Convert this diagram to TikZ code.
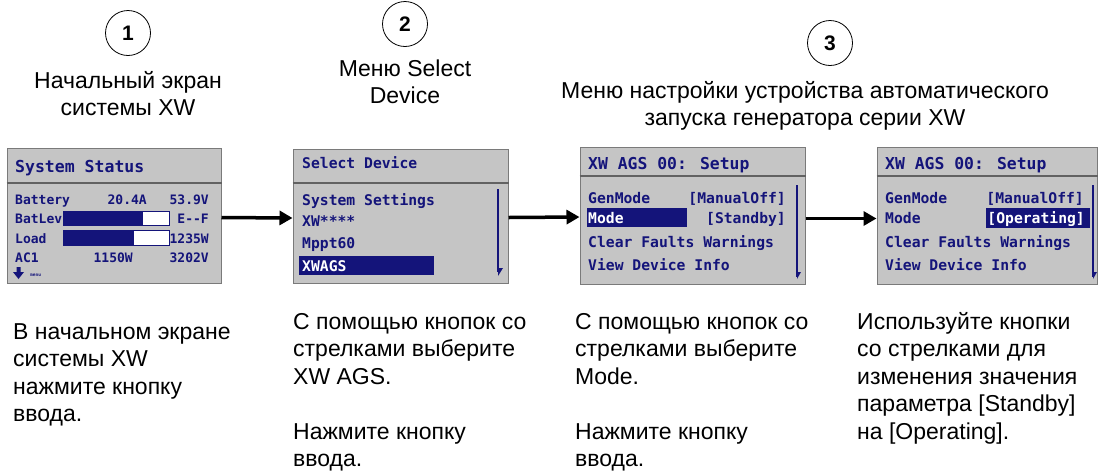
\documentclass[tikz,border=0pt]{standalone}
\usepackage{fontspec}
\setmainfont{Liberation Sans}
\newfontfamily\lcdfont{DejaVu Sans Mono}
\usepackage{tikz}
\usetikzlibrary{positioning,arrows.meta}
\definecolor{LcdBlue}{HTML}{14147A}
\definecolor{ScrFill}{HTML}{C5C5C5}
\definecolor{ScrEdge}{HTML}{7A7A7A}

\begin{document}
\begin{tikzpicture}[x=1pt,y=-1pt,
  screen/.style={draw=ScrEdge, fill=ScrFill, line width=1pt, inner sep=0pt},
  sepline/.style={draw=ScrEdge!80!black, line width=1.2pt},
  lcd/.style={font=\lcdfont\bfseries\fontsize{14.7}{14.7}\selectfont, text=LcdBlue, inner sep=0pt, anchor=base west},
  lcdr/.style={lcd, anchor=base east},
  lcdsel/.style={text=white},
  selbar/.style={fill=LcdBlue},
  scroll/.style={draw=LcdBlue, line width=1.4pt},
  stepnum/.style={circle, draw, line width=0.8pt, minimum size=45pt, inner sep=0pt, font=\bfseries\fontsize{21}{21}\selectfont},
  caption/.style={align=center, anchor=north, inner sep=0pt, font=\fontsize{23}{27}\selectfont},
  note/.style={align=left, anchor=north west, inner sep=0pt, font=\fontsize{23}{27.5}\selectfont},
  flow/.style={-{Triangle[length=13pt,width=14pt]}, line width=3.5pt}]
  \useasboundingbox (0,0) rectangle (1099,475);

  % step numbers and captions
  \foreach \n/\x/\y in {1/128/33, 2/405/24, 3/830/43}{
    \node[stepnum] (num\n) at (\x,\y) {\n};
  }
  \node[caption] (cap1) at (128,69) {\strut Начальный экран\\системы XW};
  \node[caption] (cap2) at (405,57) {\strut Меню Select\\Device};
  \node[caption] (cap3) at (805,79) {\strut Меню настройки устройства автоматического\\запуска генератора серии XW};

  % screens
  \node[screen, minimum width=214pt, minimum height=135pt] (home) at (114,215.5) {};
  \node[screen, minimum width=215pt, minimum height=134pt] (select) at (400.5,216) {};
  \node[screen, minimum width=225pt, minimum height=137pt] (setup) at (692.5,215.5) {};
  \node[screen, minimum width=220pt, minimum height=137pt] (setop) at (987,215.5) {};
  \foreach \s/\y in {home/183, select/183, setup/176, setop/176}{
    \draw[sepline] (\s.west |- 0,\y) -- (\s.east |- 0,\y);
  }

  % home screen
  \node[lcd, font=\lcdfont\bfseries\fontsize{16.5}{16.5}\selectfont] (homet) at (15,172) {System Status};
  \begin{scope}[lcd/.append style={font=\lcdfont\bfseries\fontsize{13}{13}\selectfont}]
    \node[lcd] (bat) at (15,204) {Battery};
    \node[lcdr] (batA) at (147,204) {20.4A};
    \node[lcdr] (batV) at (209,204) {53.9V};
    \node[lcd] (lev) at (15,223) {BatLev};
    \node[lcdr] (levEF) at (209,223) {E-{}-F};
    \node[lcd] (load) at (15,243) {Load};
    \node[lcdr] (loadW) at (209,243) {1235W};
    \node[lcd] (ac) at (15,262) {AC1};
    \node[lcdr] (acW) at (133,262) {1150W};
    \node[lcdr] (acV) at (209,262) {3202V};
  \end{scope}
  \draw[LcdBlue, fill=white] (63,211) rectangle (169,225);
  \fill[LcdBlue] (63,211) rectangle (143,225);
  \draw[LcdBlue, fill=white] (63,230) rectangle (169,245);
  \fill[LcdBlue] (63,230) rectangle (134,245);
  \fill[LcdBlue] (16.5,267) rectangle (20.5,272) (13,272) -- (24,272) -- (18.5,279) -- cycle;
  \node[lcd, font=\lcdfont\bfseries\fontsize{4.5}{4.5}\selectfont] (menu) at (30,276) {menu};

  % select device screen
  \node[lcd] (selt) at (302,168) {Select Device};
  \node[lcd] (sel1) at (302,205) {System Settings};
  \node[lcd] (sel2) at (302,226) {XW****};
  \node[lcd] (sel3) at (302,248) {Mppt60};
  \fill[selbar] (299,256) rectangle (434,275);
  \node[lcd, lcdsel] (sel4) at (302,271) {XWAGS};
  \draw[scroll] (498,189) -- (498,272);
  \fill[LcdBlue] (498,268) -- (503,268) -- (498,276) -- cycle;

  % AGS setup screens
  \foreach \s/\x/\r in {setup/588/786, setop/885/1084}{
    \node[lcd, font=\lcdfont\bfseries\fontsize{16.4}{16.4}\selectfont] (\s t) at (\x,169) {XW AGS 00: Setup};
    \node[lcd] (\s gen) at (\x,203) {GenMode};
    \node[lcdr] (\s genv) at (\r,203) {[ManualOff]};
    \node[lcd] (\s clr) at (\x,247) {Clear Faults Warnings};
    \node[lcd] (\s info) at (\x,270) {View Device Info};
  }
  \fill[selbar] (587,208) rectangle (687,227);
  \node[lcd, lcdsel] (setupmode) at (588,223) {Mode};
  \node[lcdr] (setupval) at (786,223) {[Standby]};
  \fill[selbar] (986,208) rectangle (1090,228);
  \node[lcd] (setopmode) at (885,223) {Mode};
  \node[lcdr, lcdsel] (setopval) at (1085,223) {[Operating]};
  \foreach \x in {797, 1093}{
    \draw[scroll] (\x,185) -- (\x,277);
    \fill[LcdBlue] (\x,272) -- (\x+4,272) -- (\x,279) -- cycle;
  }

  % steps
  \draw[flow] ([yshift=-2pt]home.east) -- ([yshift=-2pt]select.west);
  \draw[flow] ([yshift=-1.5pt]select.east) -- ([yshift=-1.5pt]setup.west);
  \draw[flow] ([yshift=-3pt]setup.east) -- ([yshift=-3pt]setop.west);

  % notes
  \node[note] (note1) at (13,319.75) {\strut В начальном экране\\системы XW\\нажмите кнопку\\ввода.};
  \node[note] (note2) at (293,309.75) {\strut С помощью кнопок со\\стрелками выберите\\XW AGS.\\[27.5pt]Нажмите кнопку\\ввода.};
  \node[note] (note3) at (575,309.75) {\strut С помощью кнопок со\\стрелками выберите\\Mode.\\[27.5pt]Нажмите кнопку\\ввода.};
  \node[note] (note4) at (857,309.75) {\strut Используйте кнопки\\со стрелками для\\изменения значения\\параметра [Standby]\\на [Operating].};
\end{tikzpicture}
\end{document}
